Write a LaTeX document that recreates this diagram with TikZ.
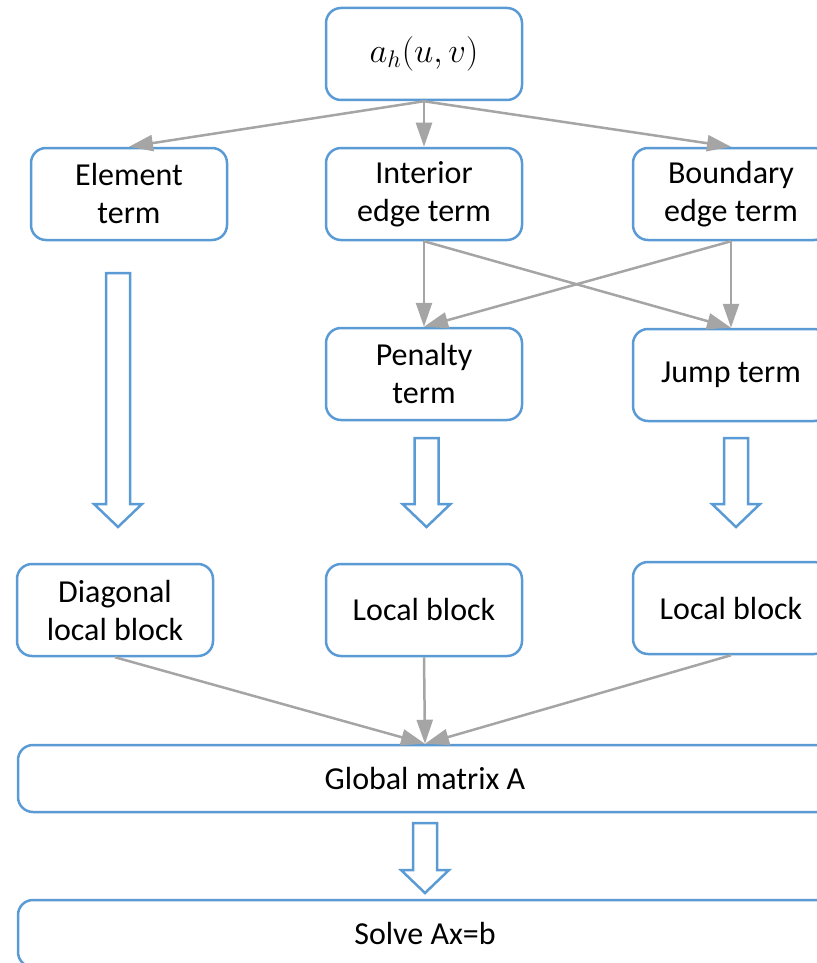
\documentclass[tikz,border=0pt]{standalone}
\usepackage{fontspec}
\setmainfont{Carlito}
\usetikzlibrary{arrows.meta,calc}
\definecolor{boxblue}{RGB}{91,155,213}
\definecolor{linegray}{RGB}{165,165,165}
\tikzset{
  term/.style={draw=boxblue, line width=1.25pt, rounded corners=7.5pt,
    minimum width=98pt, minimum height=46pt, align=center,
    font=\fontsize{16}{19}\selectfont},
  wide/.style={term, minimum width=407pt, minimum height=33.5pt},
  flow/.style={draw=linegray, line width=1.25pt,
    -{Triangle[length=12pt,width=8pt]}},
  hollow/.style={draw=boxblue, line width=1.25pt, fill=white, line join=miter}
}
% hollow block arrow between two named coordinates (x of the first)
\newcommand{\fatarrow}[2]{%
  \draw[hollow] let \p1=(#1), \p2=(#2) in
    (\x1-6pt,\y1) -- (\x1+6pt,\y1) -- (\x1+6pt,\y2+11.5pt) -- (\x1+12pt,\y2+11.5pt)
    -- (\x1,\y2) -- (\x1-12pt,\y2+11.5pt) -- (\x1-6pt,\y2+11.5pt) -- cycle;}

\begin{document}
\begin{tikzpicture}[x=0.5pt, y=-0.5pt]
  \useasboundingbox (0,0) rectangle (817,963);
  \clip (0,0) rectangle (817,963);
  %% terms
  \node[term] (ah)       at (424,54)  {\fontsize{17}{19}\selectfont$a_h(u,v)$};
  \node[term] (elem)     at (129,194) {Element\\term};
  \node[term] (interior) at (424,194) {Interior\\edge term};
  \node[term] (boundary) at (731,194) {Boundary\\edge term};
  \node[term] (penalty)  at (424,374) {Penalty\\term};
  \node[term] (jump)     at (731,375) {Jump term};
  %% blocks
  \node[term] (diag)     at (115,610) {Diagonal\\local block};
  \node[term] (localmid) at (424,610) {Local block};
  \node[term] (localrt)  at (731,608) {Local block};
  \node[wide] (global)   at (425,778.5) {Global matrix A};
  \node[wide] (solve)    at (425,933.5) {Solve Ax=b};
  %%
  \draw[flow] (ah.south) -- (elem.north);
  \draw[flow] (ah.south) -- (interior.north);
  \draw[flow] (ah.south) -- (boundary.north);
  \draw[flow] (interior.south) -- (penalty.north);
  \draw[flow] (interior.south) -- (jump.north);
  \draw[flow] (boundary.south) -- (penalty.north);
  \draw[flow] (boundary.south) -- (jump.north);
  \draw[flow] (diag.south) -- (global.north);
  \draw[flow] (localmid.south) -- (global.north);
  \draw[flow] (localrt.south) -- (global.north);
  %% block arrows
  \coordinate (e1) at (118,273);   \coordinate (e2) at (118,527);
  \coordinate (p1) at (426.5,438); \coordinate (p2) at (426.5,527);
  \coordinate (j1) at (736,438);   \coordinate (j2) at (736,527);
  \coordinate (g1) at (425,823);   \coordinate (g2) at (425,893);
  \fatarrow{e1}{e2}
  \fatarrow{p1}{p2}
  \fatarrow{j1}{j2}
  \fatarrow{g1}{g2}
\end{tikzpicture}
\end{document}
